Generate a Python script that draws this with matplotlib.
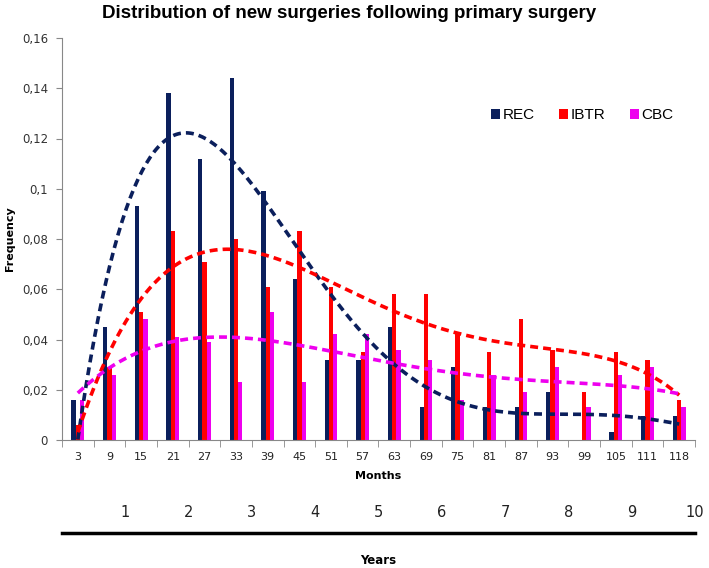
import numpy as np
import matplotlib.pyplot as plt
from matplotlib.transforms import blended_transform_factory

months = [3, 9, 15, 21, 27, 33, 39, 45, 51, 57, 63, 69, 75, 81, 87, 93, 99, 105, 111, 118]
rec = [0.016, 0.045, 0.093, 0.138, 0.112, 0.144, 0.099, 0.064, 0.032, 0.032,
       0.045, 0.013, 0.029, 0.013, 0.013, 0.019, 0.0, 0.003, 0.0095, 0.0095]
ibtr = [0.006, 0.029, 0.051, 0.083, 0.071, 0.080, 0.061, 0.083, 0.061, 0.035,
        0.058, 0.058, 0.042, 0.035, 0.048, 0.036, 0.019, 0.035, 0.032, 0.016]
cbc = [0.016, 0.026, 0.048, 0.041, 0.039, 0.023, 0.051, 0.023, 0.042, 0.042,
       0.036, 0.032, 0.016, 0.026, 0.019, 0.029, 0.013, 0.026, 0.029, 0.013]
years = list(range(1, 11))

# name, values, colour, trendline polynomial order
series = [("REC", rec, "#0b1f5c", 5), ("IBTR", ibtr, "#ff0000", 4), ("CBC", cbc, "#ee00ee", 4)]

fig = plt.figure(figsize=(7.09, 5.68), dpi=100)
ax = fig.add_axes([62 / 709, 1 - 440 / 568, 633 / 709, 402 / 568])

x = np.arange(len(months))
w = 0.135
for i, (name, vals, col, _) in enumerate(series):
    ax.bar(x + (i - 1) * w, vals, width=w, color=col, label=name)

# polynomial trendlines (excel style)
xs = np.linspace(0, len(months) - 1, 300)
for name, vals, col, order in series:
    p = np.polyfit(x + 1, vals, order)
    ax.plot(xs, np.polyval(p, xs + 1), color=col, lw=2.6, dashes=(2.2, 1.4),
            dash_capstyle="butt")

ax.set_xlim(-0.5, len(months) - 0.5)
ax.set_ylim(0, 0.16)
yt = np.arange(0, 0.161, 0.02)
ax.set_yticks(yt)
ax.set_yticklabels([("%g" % round(v, 2)).replace(".", ",") for v in yt],
                   fontsize=8.5, color="#333333")
ax.set_xticks(x)
ax.set_xticklabels([str(m) for m in months], fontsize=8, color="#222222")
ax.set_xticks(np.arange(-0.5, len(months)), minor=True)
ax.tick_params(axis="x", which="major", length=0, pad=9)
ax.tick_params(axis="x", which="minor", length=5, color="#888888")
ax.tick_params(axis="y", length=4, color="#888888", pad=6)

for s in ["top", "right"]:
    ax.spines[s].set_visible(False)
for s in ["left", "bottom"]:
    ax.spines[s].set_color("#888888")

ax.set_xlabel("Months", fontsize=8, fontweight="bold", labelpad=6)
ax.set_ylabel("Frequency", fontsize=8, fontweight="bold", labelpad=5)

leg = ax.legend(loc="upper left", bbox_to_anchor=(0.668, 0.84), ncol=3, frameon=False,
                prop={"family": "Liberation Sans", "size": 11},
                handlelength=0.6, handleheight=0.6, handletextpad=0.15,
                columnspacing=1.6, borderaxespad=0)

# years axis below
tr = blended_transform_factory(ax.transData, ax.transAxes)
for yr in years:
    ax.text((12 * yr - months[0]) / 6, -0.18, str(yr), transform=tr, ha="center",
            va="center", fontsize=10.5, family="DejaVu Sans", color="#222222")
ax.plot([-0.5, len(months) - 0.5], [-0.232, -0.232], transform=tr, color="black",
        lw=2.5, clip_on=False)
fig.text(378 / 709, 1 - 561 / 568, "Years", ha="center", va="center",
         fontsize=8.5, fontweight="bold")

fig.text(349 / 709, 1 - 14 / 568, "Distribution of new surgeries following primary surgery",
         ha="center", va="center", fontsize=13.5, fontweight="bold",
         family="Liberation Sans")

fig.savefig("out.png", dpi=100)
